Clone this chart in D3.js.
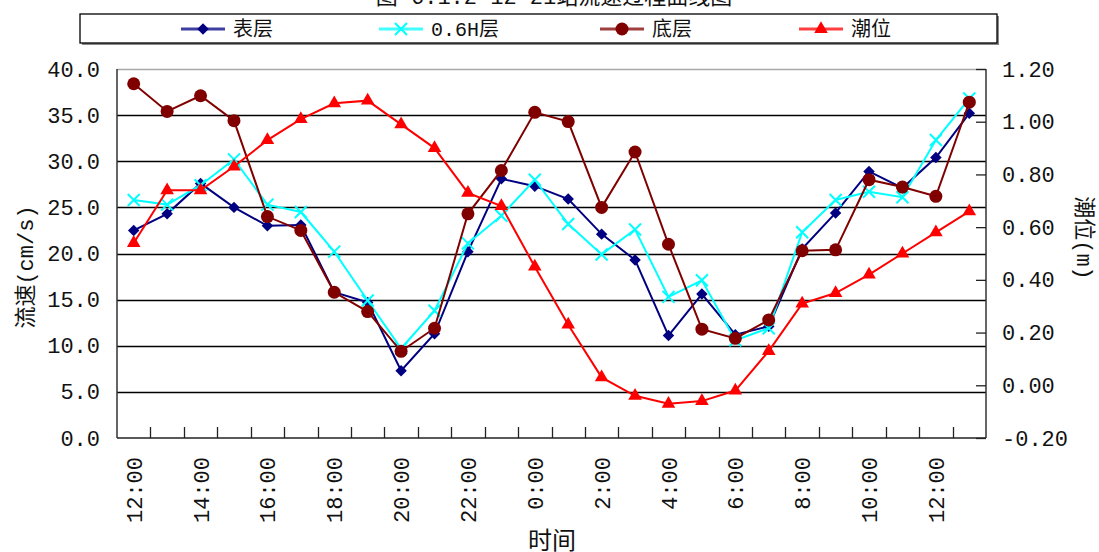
<!DOCTYPE html>
<html lang="zh">
<head>
<meta charset="UTF-8">
<title>流速过程曲线图</title>
<script src="https://cdn.jsdelivr.net/npm/d3@7"></script>
<style>
    body { margin: 0; background: #fff; }
    svg { display: block; }
    text { font-family: "Liberation Mono", "Noto Sans CJK SC", monospace; fill: #111; }
</style>
</head>
<body>
<svg width="1099" height="552"></svg>
<script>
    // 数据
    var times = ["12:00", "13:00", "14:00", "15:00", "16:00", "17:00", "18:00", "19:00", "20:00",
        "21:00", "22:00", "23:00", "0:00", "1:00", "2:00", "3:00", "4:00", "5:00", "6:00",
        "7:00", "8:00", "9:00", "10:00", "11:00", "12:00", "13:00"];
    var surface = [22.5, 24.3, 27.6, 25.0, 23.0, 23.1, 15.8, 14.7, 7.3, 11.3, 20.2, 28.1, 27.3,
        25.9, 22.1, 19.3, 11.1, 15.6, 11.2, 12.1, 20.5, 24.4, 28.9, 27.1, 30.4, 35.2];
    var middle = [25.8, 25.3, 27.4, 30.2, 25.3, 24.5, 20.2, 14.9, 9.7, 13.8, 21.1, 24.1, 28.0,
        23.2, 19.9, 22.6, 15.3, 17.1, 10.6, 11.9, 22.3, 25.8, 26.7, 26.1, 32.3, 36.8];
    var bottom = [38.4, 35.4, 37.1, 34.4, 24.0, 22.5, 15.8, 13.7, 9.4, 11.9, 24.3, 29.0, 35.3,
        34.3, 25.0, 31.0, 21.0, 11.8, 10.8, 12.8, 20.3, 20.4, 28.0, 27.2, 26.2, 36.4];
    var tide = [0.54, 0.74, 0.74, 0.83, 0.93, 1.01, 1.07, 1.08, 0.99, 0.90, 0.73, 0.68, 0.45,
        0.23, 0.03, -0.04, -0.07, -0.06, -0.02, 0.13, 0.31, 0.35, 0.42, 0.50, 0.58, 0.66];
    var leftTicks = [0, 5, 10, 15, 20, 25, 30, 35, 40];
    var rightTicks = [-0.2, 0, 0.2, 0.4, 0.6, 0.8, 1.0, 1.2];
    var names = ["表层", "0.6H层", "底层", "潮位"];
    var colors = ["#000080", "#00ffff", "#800000", "#ff0000"];

    var svg = d3.select("svg");
    var marge = {top: 69, left: 117, right: 113, bottom: 114};
    var width = 1099 - marge.left - marge.right;
    var height = 552 - marge.top - marge.bottom;

    // 标题（被裁掉大半）
    svg.append("text")
        .attr("x", 554).attr("y", 4)
        .attr("text-anchor", "middle")
        .style("font-size", "22px")
        .text("图 6.1.2-12  21站流速过程曲线图");

    var g = svg.append("g")
        .attr("transform", "translate(" + marge.left + "," + marge.top + ")");

    var xScale = d3.scaleBand().domain(d3.range(times.length)).range([0, width]);
    var yLeft = d3.scaleLinear().domain([0, 40]).range([height, 0]);
    var yRight = d3.scaleLinear().domain([-0.2, 1.2]).range([height, 0]);
    var cx = function (d, i) { return xScale(i) + xScale.bandwidth() / 2; };

    // 网格线
    g.append("line")
        .attr("x1", 0).attr("x2", width).attr("y1", 0.5).attr("y2", 0.5)
        .attr("stroke", "#a8a8a8").attr("stroke-width", 1.5);
    g.append("g").selectAll("line")
        .data(leftTicks.slice(1, -1))
        .enter().append("line")
        .attr("x1", 0).attr("x2", width)
        .attr("y1", function (d) { return Math.round(yLeft(d)) + 0.5; })
        .attr("y2", function (d) { return Math.round(yLeft(d)) + 0.5; })
        .attr("stroke", "#000").attr("stroke-width", 1.3);

    // 坐标轴线
    g.append("line").attr("x1", 0).attr("x2", 0).attr("y1", 0).attr("y2", height)
        .attr("stroke", "#333").attr("stroke-width", 1.5);
    g.append("line").attr("x1", width).attr("x2", width).attr("y1", 0).attr("y2", height)
        .attr("stroke", "#333").attr("stroke-width", 1.5);
    g.append("line").attr("x1", 0).attr("x2", width).attr("y1", height).attr("y2", height)
        .attr("stroke", "#222").attr("stroke-width", 1.5);

    // x 轴刻度线（分类之间）
    g.append("g").selectAll("line")
        .data(d3.range(1, times.length))
        .enter().append("line")
        .attr("x1", function (i) { return Math.round(xScale(i)) + 0.5; })
        .attr("x2", function (i) { return Math.round(xScale(i)) + 0.5; })
        .attr("y1", height).attr("y2", height - 11)
        .attr("stroke", "#222").attr("stroke-width", 1.3);

    // 左轴
    var leftAxis = g.append("g")
        .call(d3.axisLeft(yLeft).tickValues(leftTicks)
            .tickFormat(d3.format(".1f")).tickSize(0).tickPadding(17));
    leftAxis.select(".domain").remove();
    leftAxis.selectAll("text").style("font-size", "22px").attr("fill", "#111");

    // 右轴
    var rightAxis = g.append("g")
        .attr("transform", "translate(" + width + ",0)")
        .call(d3.axisRight(yRight).tickValues(rightTicks)
            .tickFormat(function (d) { return d3.format(".2f")(d).replace("\u2212", "-"); })
            .tickSizeInner(-10).tickSizeOuter(0).tickPadding(16));
    rightAxis.select(".domain").remove();
    rightAxis.selectAll("line").attr("stroke", "#222").attr("stroke-width", 1.3);
    rightAxis.selectAll("text").style("font-size", "22px").attr("fill", "#111");

    // 下轴标签
    var bottomAxis = g.append("g")
        .attr("transform", "translate(0," + height + ")")
        .call(d3.axisBottom(xScale)
            .tickValues(d3.range(0, times.length, 2))
            .tickFormat(function (i) { return times[i]; })
            .tickSize(0));
    bottomAxis.select(".domain").remove();
    bottomAxis.selectAll("text")
        .attr("transform", "rotate(-90)")
        .attr("text-anchor", "end")
        .attr("x", -19).attr("y", 1).attr("dy", "0.32em")
        .style("font-size", "22px").attr("fill", "#111");

    // 轴标题
    svg.append("text")
        .attr("transform", "translate(25,267) rotate(-90)")
        .attr("text-anchor", "middle").attr("dy", "0.35em")
        .style("font-size", "22px")
        .text("流速(cm/s)");
    svg.append("text")
        .attr("transform", "translate(1085,238) rotate(90)")
        .attr("text-anchor", "middle").attr("dy", "0.35em")
        .style("font-size", "22px")
        .text("潮位(m)");
    svg.append("text")
        .attr("x", 552).attr("y", 549)
        .attr("text-anchor", "middle")
        .style("font-size", "24px")
        .text("时间");

    // 标记
    function drawMarker(sel, k) {
        if (k === 0) {
            sel.append("path")
                .attr("d", d3.symbol().type(d3.symbolSquare).size(66)())
                .attr("transform", "rotate(45)")
                .attr("fill", colors[0]);
        } else if (k === 1) {
            sel.append("path")
                .attr("d", "M-6,-6L6,6M-6,6L6,-6")
                .attr("stroke", colors[1]).attr("stroke-width", 2).attr("fill", "none");
        } else if (k === 2) {
            sel.append("circle").attr("r", 6.5).attr("fill", colors[2]);
        } else {
            sel.append("path")
                .attr("d", d3.symbol().type(d3.symbolTriangle).size(80)())
                .attr("fill", colors[3]);
        }
    }

    // 折线
    var seriesList = [surface, middle, bottom, tide];
    seriesList.forEach(function (values, k) {
        var yScale = k === 3 ? yRight : yLeft;
        var line = d3.line()
            .x(cx)
            .y(function (d) { return yScale(d); });
        g.append("path")
            .datum(values)
            .attr("d", line)
            .attr("fill", "none")
            .attr("stroke", colors[k])
            .attr("stroke-width", 2);
        g.append("g").selectAll("g")
            .data(values)
            .enter().append("g")
            .attr("transform", function (d, i) {
                return "translate(" + cx(d, i) + "," + yScale(d) + ")";
            })
            .each(function () { drawMarker(d3.select(this), k); });
    });

    // 图例
    var legend = svg.append("g");
    legend.append("rect")
        .attr("x", 82).attr("y", 16).attr("width", 917).attr("height", 29)
        .attr("fill", "#888");
    legend.append("rect")
        .attr("x", 80).attr("y", 14).attr("width", 917).attr("height", 29)
        .attr("fill", "#fff").attr("stroke", "#000").attr("stroke-width", 1.3);
    var legendX = [203, 401, 622, 821];
    names.forEach(function (name, k) {
        var item = legend.append("g")
            .attr("transform", "translate(" + legendX[k] + ",29)");
        item.append("line")
            .attr("x1", -22).attr("x2", 22)
            .attr("stroke", colors[k]).attr("stroke-width", 3).attr("opacity", 0.75);
        drawMarker(item, k);
        item.append("text")
            .attr("x", 30).attr("dy", "0.36em")
            .style("font-size", "20px")
            .text(name);
    });
</script>
</body>
</html>
